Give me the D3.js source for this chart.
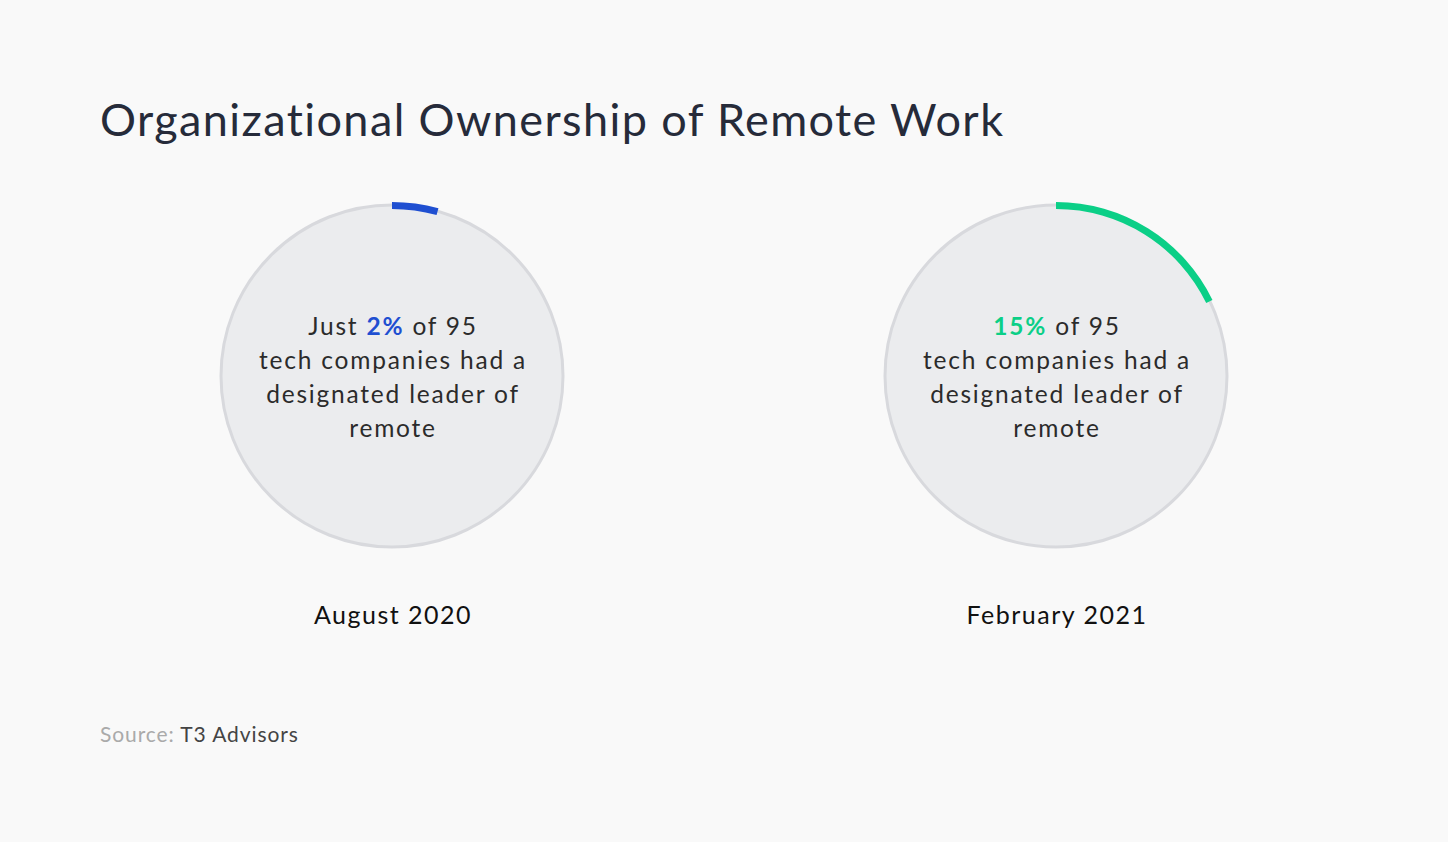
<!DOCTYPE html>
<html>
<head>
<meta charset="utf-8">
<script src="https://cdn.jsdelivr.net/npm/d3@7"></script>
<style>
	body { margin: 0; background: #f9f9f9; }
	svg { display: block; font-family: 'Lato', 'Open Sans', sans-serif; }
</style>
</head>
<body>
<svg id="chart"></svg>
<script>
const DIMENSION = {
	width: 1448,
	height: 842
};

const TITLE = 'Organizational Ownership of Remote Work';
const periods = ['August 2020', 'February 2021'];
const shares = [2, 15];            // headline percentages
const arcShares = [4.3, 17.8];     // arc length as drawn, percent of circle
const prefixes = ['Just ', ''];
const colors = ['#1f4fd1', '#0bcf87'];
const bodyLines = ['tech companies had a', 'designated leader of', 'remote'];
const total = 95;

const CONTAINER = '#chart';

const svg = d3.select(CONTAINER)
	.attr('width', DIMENSION.width)
	.attr('height', DIMENSION.height);

svg.append('rect')
	.attr('width', DIMENSION.width)
	.attr('height', DIMENSION.height)
	.attr('fill', '#f9f9f9');

svg.append('text')
	.attr('x', 100)
	.attr('y', 136)
	.attr('font-size', 45)
	.attr('letter-spacing', 1.4)
	.attr('fill', '#262b3a')
	.text(TITLE);

const xScale = d3.scalePoint()
	.domain(periods)
	.range([392, 1056]);

const angle = d3.scaleLinear()
	.domain([0, 100])
	.range([0, 2 * Math.PI]);

const R = 171;

const arc = d3.arc()
	.innerRadius(R - 4)
	.outerRadius(R + 3)
	.startAngle(0)
	.endAngle(d => angle(d));

periods.forEach((p, i) => {
	const g = svg.append('g')
		.attr('transform', `translate(${xScale(p)},376)`);

	g.append('circle')
		.attr('r', R)
		.attr('fill', '#ebecee')
		.attr('stroke', '#d8d9dd')
		.attr('stroke-width', 3);

	g.append('path')
		.attr('d', arc(arcShares[i]))
		.attr('fill', colors[i]);

	const first = g.append('text')
		.attr('text-anchor', 'middle')
		.attr('x', 1)
		.attr('y', -41)
		.attr('font-size', 24.5)
		.attr('letter-spacing', 1.8)
		.attr('fill', '#2b2b2b');
	first.append('tspan').text(prefixes[i]);
	first.append('tspan')
		.attr('font-weight', 'bold')
		.attr('fill', colors[i])
		.text(shares[i] + '%');
	first.append('tspan').text(' of ' + total);

	bodyLines.forEach((line, j) => {
		g.append('text')
			.attr('text-anchor', 'middle')
			.attr('x', 1)
			.attr('y', -41 + (j + 1) * 34)
			.attr('font-size', 24.5)
			.attr('letter-spacing', 1.8)
			.attr('fill', '#2b2b2b')
			.text(line);
	});

	svg.append('text')
		.attr('x', xScale(p) + 1)
		.attr('y', 624)
		.attr('text-anchor', 'middle')
		.attr('font-size', 25)
		.attr('letter-spacing', 1.5)
		.attr('fill', '#111')
		.text(p);
});

const source = svg.append('text')
	.attr('x', 100)
	.attr('y', 742)
	.attr('font-size', 21)
	.attr('letter-spacing', 0.9);
source.append('tspan').attr('fill', '#aaaaaa').text('Source: ');
source.append('tspan').attr('fill', '#444').text('T3 Advisors');
</script>
</body>
</html>
